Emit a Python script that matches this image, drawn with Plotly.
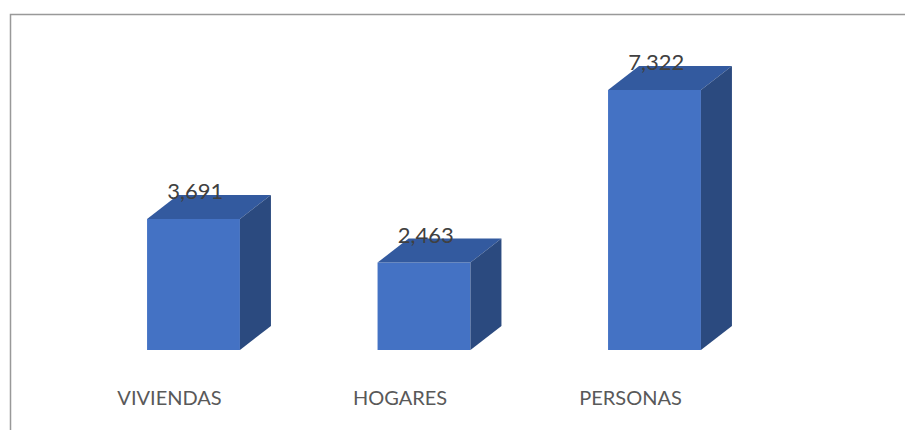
import plotly.graph_objects as go

categories = ["VIVIENDAS", "HOGARES", "PERSONAS"]
values = [3691, 2463, 7322]
value_labels = ["3,691", "2,463", "7,322"]

# style constants (page body has an 8px margin, so the figure is 905x422)
W = 905
H = 422
BAR_W = 0.403
DX = 0.1345
DY = 676
FRONT = "#4472C4"
TOP = "#335A9F"
SIDE = "#2B4A7F"
LABEL_SHIFT = -0.104

fig = go.Figure()
xs = list(range(len(categories)))

fig.add_trace(go.Bar(x=xs, y=values, width=BAR_W, marker=dict(color=FRONT, line=dict(width=0)),
                     hoverinfo="skip", showlegend=False))

for i, v in zip(xs, values):
    l, r = i - BAR_W / 2, i + BAR_W / 2
    fig.add_trace(go.Scatter(x=[l, r, r + DX, l + DX, l], y=[v, v, v + DY, v + DY, v],
                             fill="toself", fillcolor=TOP, mode="lines", line=dict(width=0),
                             hoverinfo="skip", showlegend=False))
    fig.add_trace(go.Scatter(x=[r, r + DX, r + DX, r, r], y=[0, DY, v + DY, v, 0],
                             fill="toself", fillcolor=SIDE, mode="lines", line=dict(width=0),
                             hoverinfo="skip", showlegend=False))

fig.add_trace(go.Scatter(x=[i + 0.008 for i in xs], y=[v + DY + 40 for v in values], mode="text",
                         text=value_labels, textposition="middle center",
                         textfont=dict(family="Lato, Open Sans, sans-serif", size=22, color="#404040"),
                         hoverinfo="skip", showlegend=False))

fig.add_trace(go.Scatter(x=[i + LABEL_SHIFT for i in xs], y=[-1420] * 3, mode="text",
                         text=categories, textposition="middle center",
                         textfont=dict(family="Lato, Open Sans, sans-serif", size=20, color="#595959"),
                         hoverinfo="skip", showlegend=False))

fig.update_layout(
    width=W, height=H,
    margin=dict(l=0, r=0, t=0, b=0),
    paper_bgcolor="white", plot_bgcolor="white",
    xaxis=dict(range=[-0.8048, 3.1215], visible=False, fixedrange=True),
    yaxis=dict(range=[-2253, 9631], visible=False, fixedrange=True),
    shapes=[dict(type="rect", xref="paper", yref="paper",
                 x0=2.5 / W, x1=1.05, y0=-0.05, y1=1 - 6.5 / H,
                 line=dict(color="#999999", width=1.5), fillcolor="rgba(0,0,0,0)")],
)

fig.write_html("out.html")
